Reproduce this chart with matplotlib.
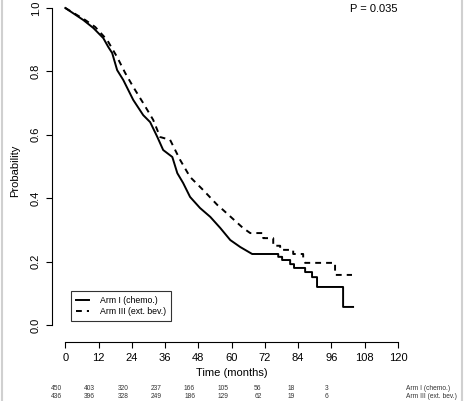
import matplotlib
matplotlib.use("Agg")
import matplotlib.pyplot as plt
from matplotlib.lines import Line2D
from matplotlib.transforms import blended_transform_factory

plt.rcParams['font.family'] = ['Liberation Sans', 'DejaVu Sans']

# KM curve vertices (months, survival probability)
arm1_t = [0, 6.5, 10.1, 13.7, 15.5, 16.9, 18.7, 20.9, 24.5, 28.1, 30.6, 33.2, 35.3, 38.6,
          40.4, 42.5, 45.0, 48.6, 52.3, 55.9, 59.5, 63.1, 67.4, 76.8, 76.8, 78.2, 78.2,
          81.1, 81.1, 82.5, 82.5, 86.5, 86.5, 89.0, 89.0, 90.8, 90.8, 91.9, 91.9, 100.2,
          100.2, 103.8]
arm1_s = [1.0, 0.962, 0.937, 0.905, 0.877, 0.858, 0.804, 0.773, 0.710, 0.662, 0.640, 0.593,
          0.552, 0.530, 0.479, 0.448, 0.404, 0.369, 0.341, 0.306, 0.268, 0.246, 0.224, 0.224,
          0.215, 0.215, 0.205, 0.205, 0.192, 0.192, 0.180, 0.180, 0.167, 0.167, 0.151, 0.151,
          0.120, 0.120, 0.120, 0.120, 0.057, 0.057]

arm3_t = [0, 7.2, 10.8, 15.1, 18.7, 21.6, 24.5, 28.1, 31.7, 34.2, 37.8, 41.4, 45.0, 49.7,
          54.8, 56.9, 64.1, 66.7, 71.4, 71.4, 75.0, 75.0, 77.5, 77.5, 82.2, 82.2, 85.8,
          85.8, 86.5, 97.3, 97.3, 103.4]
arm3_s = [1.0, 0.962, 0.940, 0.899, 0.845, 0.795, 0.751, 0.700, 0.647, 0.593, 0.584, 0.521,
          0.467, 0.426, 0.379, 0.363, 0.306, 0.290, 0.290, 0.274, 0.274, 0.250, 0.250, 0.237,
          0.237, 0.224, 0.224, 0.211, 0.196, 0.196, 0.158, 0.158]

xticks = [0, 12, 24, 36, 48, 60, 72, 84, 96, 108, 120]
yticks = [0.0, 0.2, 0.4, 0.6, 0.8, 1.0]
risk_times = [0, 12, 24, 36, 48, 60, 72, 84, 96]
risk_arm1 = [450, 403, 320, 237, 166, 105, 56, 18, 3]
risk_arm3 = [436, 396, 328, 249, 186, 129, 62, 19, 6]
labels = ["Arm I (chemo.)", "Arm III (ext. bev.)"]

W, H = 465, 401
fig = plt.figure(figsize=(W / 100, H / 100), dpi=100)
ax = fig.add_axes([52 / W, 1 - 342 / H, (411.3 - 52) / W, 342 / H])

ax.plot(arm1_t, arm1_s, color='black', lw=1.4, label=labels[0])
ax.plot(arm3_t, arm3_s, color='black', lw=1.4, ls=(0, (3, 2.6)), label=labels[1])

ax.set_xlim(-4.8, 124.8)
ax.set_ylim(-0.0536, 1.0252)
ax.set_xticks(xticks)
ax.set_yticks(yticks)
ax.set_yticklabels([f"{v:.1f}" for v in yticks], rotation=90, va='center')
for s in ['top', 'right']:
    ax.spines[s].set_visible(False)
ax.spines['left'].set_bounds(0, 1)
ax.spines['bottom'].set_bounds(0, 120)
for s in ['left', 'bottom']:
    ax.spines[s].set_linewidth(0.8)
ax.tick_params(length=4, width=0.8, labelsize=8, pad=4)
ax.set_ylabel("Probability", fontsize=8, labelpad=8)

fig.text(232 / W, 1 - 373 / H, "Time (months)", ha='center', va='center', fontsize=8)
fig.text(374 / W, 1 - 9 / H, "P = 0.035", ha='center', va='center', fontsize=8)

tr = blended_transform_factory(ax.transData, fig.transFigure)
for t, a, b in zip(risk_times, risk_arm1, risk_arm3):
    ax.text(t - 1.2, 1 - 388 / H, str(a), transform=tr, ha='right', va='center',
            fontsize=4.8, color='#333333', clip_on=False)
    ax.text(t - 1.2, 1 - 396 / H, str(b), transform=tr, ha='right', va='center',
            fontsize=4.8, color='#333333', clip_on=False)
fig.text(406 / W, 1 - 388 / H, labels[0], ha='left', va='center', fontsize=4.8, color='#333333')
fig.text(406 / W, 1 - 396 / H, labels[1], ha='left', va='center', fontsize=4.8, color='#333333')

leg = ax.legend(loc='upper left', bbox_to_anchor=(71 / W, 1 - 291 / H),
                bbox_transform=fig.transFigure, borderaxespad=0, fontsize=6.3,
                frameon=True, fancybox=False, edgecolor='black', handlelength=1.4,
                handletextpad=1.3, borderpad=0.6, labelspacing=0.15)
leg.get_frame().set_linewidth(0.8)

# faint image frame at the left and right edges
fig.add_artist(Line2D([2 / W, 2 / W], [0, 1], color='#d0d0d0', lw=1.5, transform=fig.transFigure))
fig.add_artist(Line2D([462 / W, 462 / W], [0, 1], color='#d0d0d0', lw=1.5, transform=fig.transFigure))

fig.savefig("out.png", dpi=100)
